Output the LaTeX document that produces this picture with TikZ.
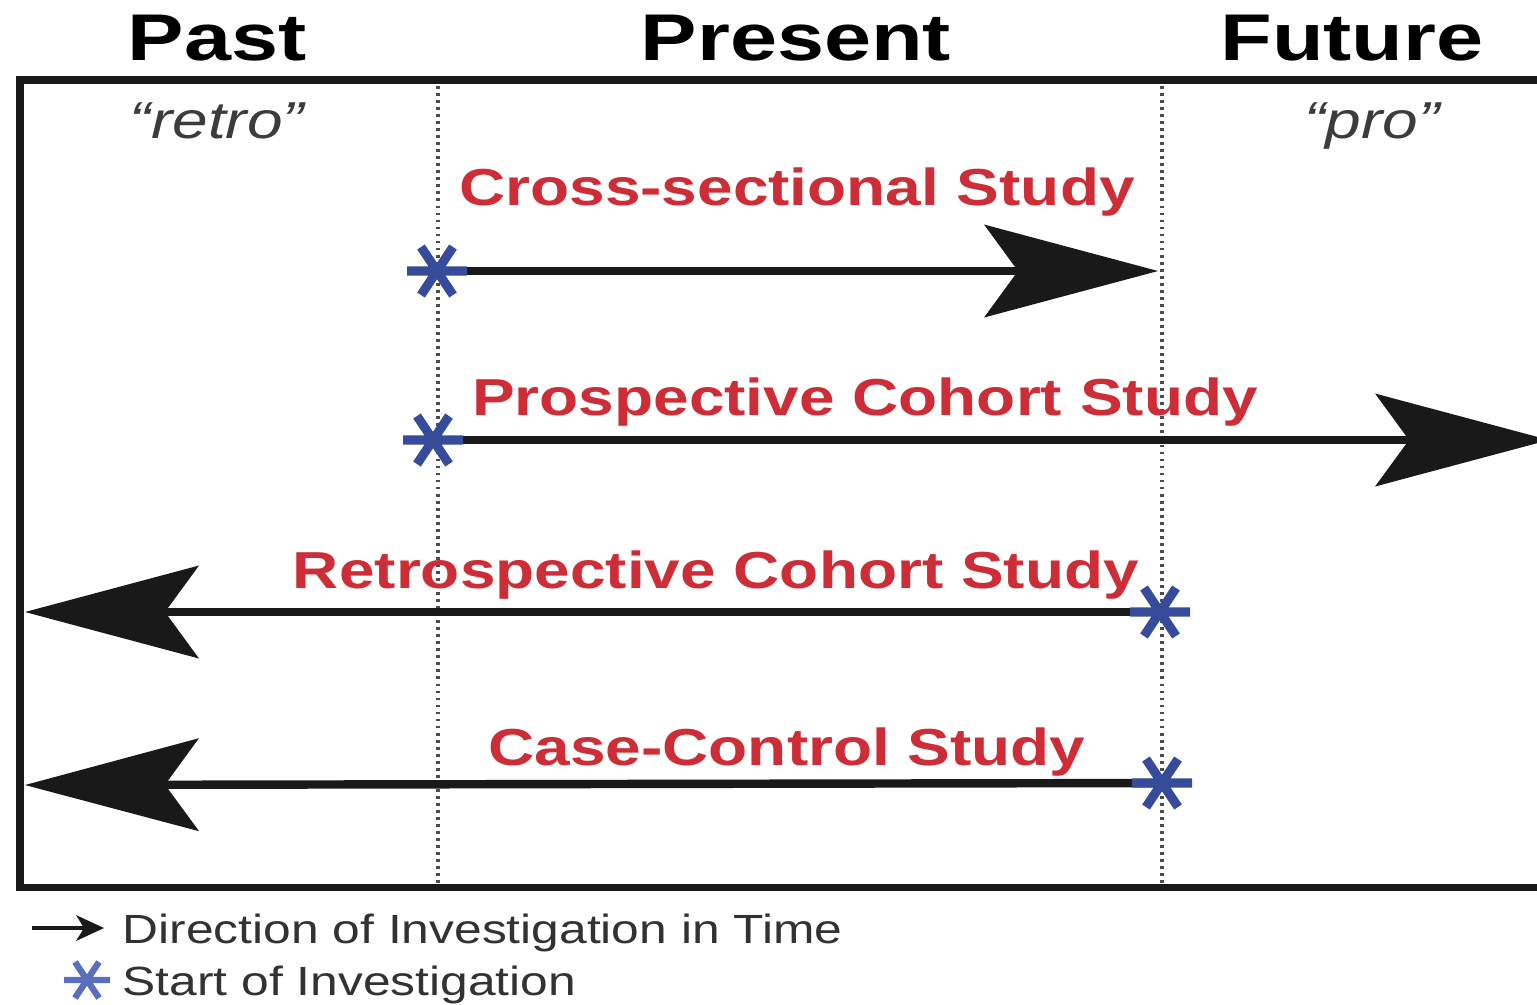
\documentclass[tikz,border=0pt]{standalone}
\usepackage{fontspec}
\setmainfont{Liberation Sans}
\usetikzlibrary{arrows.meta,calc}
\definecolor{labred}{RGB}{205,45,55}
\definecolor{astblue}{RGB}{55,75,155}
\definecolor{astlight}{RGB}{90,110,190}
\definecolor{legtext}{RGB}{50,50,50}
\definecolor{quotetext}{RGB}{60,60,60}
\definecolor{framecol}{RGB}{25,25,25}
\tikzset{
  headtext/.style={anchor=base, inner sep=0pt, text=black, font=\fontsize{18.8}{20}\selectfont\bfseries},
  quotelabel/.style={anchor=base, inner sep=0pt, text=quotetext, font=\fontsize{14.8}{17}\selectfont\itshape},
  studylabel/.style={anchor=base, inner sep=0pt, text=labred, font=\fontsize{14.8}{17}\selectfont\bfseries},
  legendtext/.style={anchor=base west, inner sep=0pt, text=legtext, font=\fontsize{11.6}{13}\selectfont},
  framestyle/.style={draw=framecol, line width=2pt, line join=miter},
  timeline/.style={draw=black!70, line width=1pt, dash pattern=on 0.8pt off 1.2pt},
  bigarrow/.style={draw=framecol, line width=2.4pt, -{Stealth[length=1.74cm, width=0.93cm, inset=0.34cm, line width=0pt]}},
  legarrow/.style={draw=framecol, line width=0.9pt, -{Stealth[length=0.28cm, width=0.26cm, inset=0.08cm, line width=0pt]}},
  anchorpt/.style={inner sep=0pt, minimum size=0pt},
  pics/bigast/.style={code={
    \draw[astblue, line width=2.6pt] (-0.30,0) -- (0.30,0)
      (-0.16,0.24) -- (0.16,-0.24) (-0.16,-0.24) -- (0.16,0.24);}},
  pics/smallast/.style={code={
    \draw[astlight, line width=1.8pt] (-0.23,0) -- (0.23,0)
      (-0.12,0.18) -- (0.12,-0.18) (-0.12,-0.18) -- (0.12,0.18);}}
}
\begin{document}
\begin{tikzpicture}
\useasboundingbox (0,0) rectangle (15.37,-10.04);
\fill[white] (0,0) rectangle (15.37,-10.04);

% headings
\node[headtext] (past) at (2.17,-0.60) {\scalebox{1.28}[1]{Past}};
\node[headtext] (present) at (7.96,-0.60) {\scalebox{1.28}[1]{Present}};
\node[headtext] (future) at (13.52,-0.60) {\scalebox{1.28}[1]{Future}};

% frame
\coordinate (fr1) at (15.6,-0.80);
\coordinate (fr2) at (0.20,-0.80);
\coordinate (fr3) at (0.20,-8.87);
\coordinate (fr4) at (15.6,-8.87);
\draw[framestyle] (fr1) -- (fr2) -- (fr3) -- (fr4);

% time boundaries
\coordinate (d1top) at (4.38,-0.86);
\coordinate (d1bot) at (4.38,-8.84);
\coordinate (d2top) at (11.62,-0.86);
\coordinate (d2bot) at (11.62,-8.84);
\draw[timeline] (d1top) -- (d1bot);
\draw[timeline] (d2top) -- (d2bot);

% retro / pro
\node[quotelabel] (retro) at (2.17,-1.38) {\scalebox{1.23}[1]{“retro”}};
\node[quotelabel] (pro) at (13.72,-1.38) {\scalebox{1.23}[1]{“pro”}};

% study labels
\node[studylabel] (cross) at (7.97,-2.05) {\scalebox{1.23}[1]{Cross-sectional Study}};
\node[studylabel] (prosp) at (8.65,-4.15) {\scalebox{1.23}[1]{Prospective Cohort Study}};
\node[studylabel] (retrosp) at (7.16,-5.88) {\scalebox{1.23}[1]{Retrospective Cohort Study}};
\node[studylabel] (casectl) at (7.87,-7.65) {\scalebox{1.23}[1]{Case-Control Study}};

% start points and arrow ends
\node[anchorpt] (s1) at (4.37,-2.71) {};
\node[anchorpt] (s2) at (4.33,-4.40) {};
\node[anchorpt] (s3) at (11.60,-6.12) {};
\node[anchorpt] (s4) at (11.62,-7.83) {};
\coordinate (t1) at (11.58,-2.71);
\coordinate (t2) at (15.49,-4.40);
\coordinate (t3) at (0.25,-6.12);
\coordinate (t4) at (0.25,-7.85);

\draw[bigarrow] (s1.center) -- (t1);
\draw[bigarrow] (s2.center) -- (t2);
\draw[bigarrow] (s3.center) -- (t3);
\draw[bigarrow] (s4.center) -- (t4);

\pic at (s1) {bigast};
\pic at (s2) {bigast};
\pic at (s3) {bigast};
\pic at (s4) {bigast};

% legend
\coordinate (la1) at (0.32,-9.28);
\coordinate (la2) at (1.04,-9.28);
\draw[legarrow] (la1) -- (la2);
\node[legendtext] (leg1) at (1.22,-9.43) {\scalebox{1.22}[1]{Direction of Investigation in Time}};
\node[anchorpt] (ls) at (0.87,-9.80) {};
\pic at (ls) {smallast};
\node[legendtext] (leg2) at (1.22,-9.95) {\scalebox{1.22}[1]{Start of Investigation}};
\end{tikzpicture}
\end{document}
